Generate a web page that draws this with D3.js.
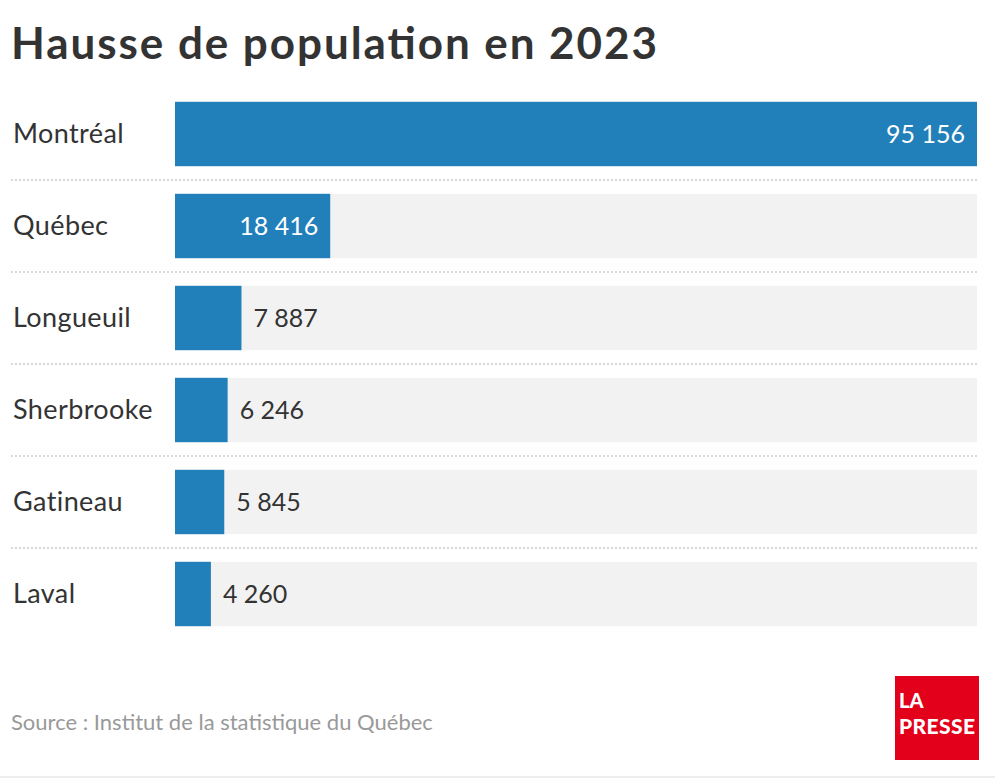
<!DOCTYPE html>
<html><head><meta charset="utf-8">
<script src="https://cdn.jsdelivr.net/npm/d3@7"></script>
<style>body{margin:0;background:#fff;font-family:Lato,"Open Sans",sans-serif;}</style>
</head><body><svg id="c" width="995" height="778"></svg>
<script>
const cities=["Montréal","Québec","Longueuil","Sherbrooke","Gatineau","Laval"];
const values=[95156,18416,7887,6246,5845,4260];
const svg=d3.select("#c");
const fmt=v=>d3.format(",")(v).replace(/,/g," ");
svg.append("text").attr("x",11).attr("y",59).attr("font-size",44).attr("font-weight",700).attr("fill","#333").attr("textLength",646).text("Hausse de population en 2023");
const x=d3.scaleLinear().domain([0,95156]).range([175,977]);
const y=d3.scaleBand().domain(cities).range([88,640]).paddingInner(0.3).paddingOuter(0.15);
cities.forEach((c,i)=>{
  const yy=y(c),h=y.bandwidth();
  svg.append("rect").attr("x",175).attr("y",yy).attr("width",x(95156)-175).attr("height",h).attr("fill","#f2f2f2");
  svg.append("rect").attr("x",175).attr("y",yy).attr("width",x(values[i])-175).attr("height",h).attr("fill","#2180ba");
  svg.append("text").attr("x",13).attr("y",yy+h/2+9).attr("font-size",27).attr("letter-spacing",0.4).attr("fill","#333").text(c);
  const inside=values[i]>15000;
  svg.append("text").attr("x",inside?x(values[i])-12:x(values[i])+12).attr("y",yy+h/2+9)
    .attr("text-anchor",inside?"end":"start").attr("font-size",25).attr("fill",inside?"#fff":"#333").text(fmt(values[i]));
  if(i<cities.length-1){
    const sy=yy+h+(y.step()-h)/2;
    svg.append("line").attr("x1",11).attr("x2",977).attr("y1",sy).attr("y2",sy).attr("stroke","#ccc").attr("stroke-width",1.5).attr("stroke-dasharray","2,2");
  }
});
svg.append("text").attr("x",11).attr("y",730).attr("font-size",22).attr("fill","#999").text("Source : Institut de la statistique du Québec");
svg.append("rect").attr("x",895).attr("y",676).attr("width",84).attr("height",84).attr("fill","#e3001b");
svg.append("text").attr("x",899).attr("y",708).attr("font-size",20).attr("font-weight",900).attr("fill","#fff").text("LA");
svg.append("text").attr("x",899).attr("y",734).attr("font-size",21).attr("font-weight",900).attr("fill","#fff").attr("textLength",76).text("PRESSE");
svg.append("line").attr("x1",0).attr("x2",995).attr("y1",777).attr("y2",777).attr("stroke","#ddd");
</script></body></html>
